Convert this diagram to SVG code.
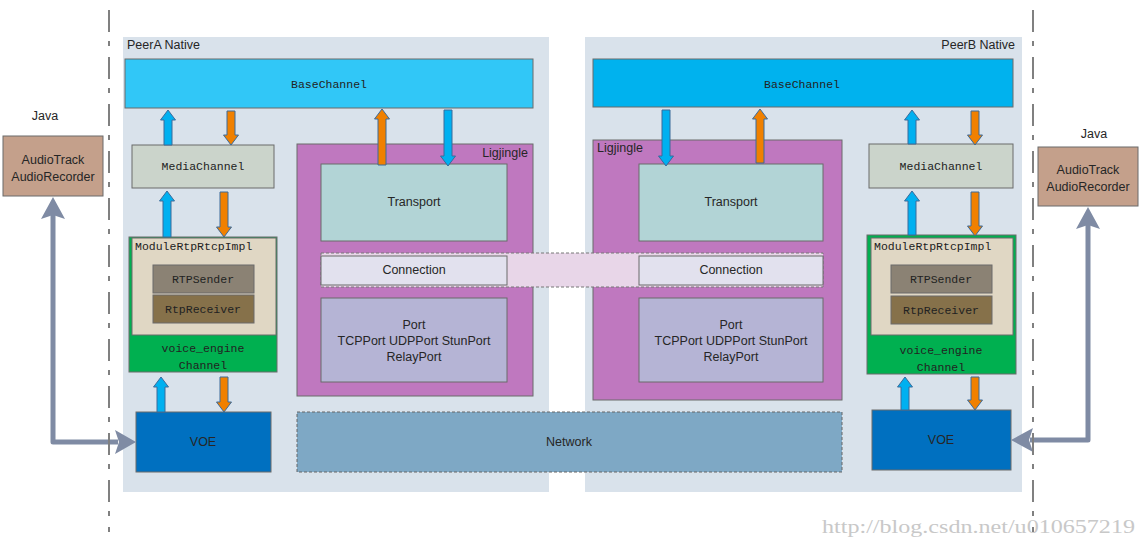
<svg xmlns="http://www.w3.org/2000/svg" width="1145" height="547" viewBox="0 0 1145 547">
<style>
.box{stroke:#6B6B6B;stroke-width:1}
.sans{font-family:"Liberation Sans",Arial,sans-serif;font-size:12.5px;fill:#262626}
.mono{font-family:"Liberation Mono","DejaVu Sans Mono",monospace;font-size:11.5px;fill:#222}
.mid{text-anchor:middle}
.blue{fill:#00B0F0;stroke:#3A6A9A;stroke-width:1}
.orange{fill:#F08000;stroke:#3A6A9A;stroke-width:1}
.big{fill:none;stroke:#7F8BA4;stroke-width:5;stroke-linejoin:round}
.head{fill:#7F8BA4}
.sep{stroke:#808080;stroke-width:2;stroke-dasharray:22 9 5 11;fill:none}
</style>
<rect width="1145" height="547" fill="#FFFFFF"/>
<g id="peerA-panel"><rect x="123" y="37" width="426" height="455" fill="#D9E2EB"/><text class="sans" x="127" y="49">PeerA Native</text></g>
<g id="peerB-panel"><rect x="585" y="37" width="437" height="455" fill="#D9E2EB"/><text class="sans" x="1015" y="49" text-anchor="end">PeerB Native</text></g>

<g id="javaA"><text class="sans mid" x="45" y="120">Java</text>
<rect class="box" x="3" y="136" width="100" height="60" fill="#C4A08B"/>
<text class="sans mid" x="53" y="164">AudioTrack</text><text class="sans mid" x="53" y="181">AudioRecorder</text></g>
<g id="javaB"><text class="sans mid" x="1094" y="138">Java</text>
<rect class="box" x="1038" y="147" width="100" height="59" fill="#C4A08B"/>
<text class="sans mid" x="1088" y="174">AudioTrack</text><text class="sans mid" x="1088" y="191">AudioRecorder</text></g>

<g id="baseChannelA"><rect class="box" x="125" y="59" width="408" height="49" fill="#31C7F7"/><text class="mono mid" x="329" y="88">BaseChannel</text></g>
<g id="baseChannelB"><rect class="box" x="593" y="59" width="420" height="48" fill="#00B2EE"/><text class="mono mid" x="802" y="88">BaseChannel</text></g>

<g id="mediaChannelA"><rect class="box" x="132" y="145" width="142" height="43" fill="#CBD4CB"/><text class="mono mid" x="203" y="170">MediaChannel</text></g>
<g id="mediaChannelB"><rect class="box" x="869" y="144" width="144" height="44" fill="#CBD4CB"/><text class="mono mid" x="941" y="170">MediaChannel</text></g>

<g id="channelA"><rect class="box" x="129" y="237" width="148" height="135" fill="#00B050"/>
<rect class="box" x="132" y="238" width="144" height="97" fill="#E0D7C4"/>
<text class="mono" x="135" y="250">ModuleRtpRtcpImpl</text>
<rect class="box" x="153" y="265" width="101" height="28" fill="#8B8274"/><text class="mono mid" x="203" y="283">RTPSender</text>
<rect class="box" x="153" y="295" width="101" height="28" fill="#86714A"/><text class="mono mid" x="203" y="313">RtpReceiver</text>
<text class="mono mid" x="203" y="352">voice_engine</text><text class="mono mid" x="203" y="369">Channel</text></g>
<g id="channelB"><rect class="box" x="867" y="235" width="149" height="139" fill="#00B050"/>
<rect class="box" x="871" y="238" width="142" height="97" fill="#E0D7C4"/>
<text class="mono" x="874" y="250">ModuleRtpRtcpImpl</text>
<rect class="box" x="891" y="265" width="101" height="28" fill="#8B8274"/><text class="mono mid" x="941" y="283">RTPSender</text>
<rect class="box" x="891" y="296" width="101" height="28" fill="#86714A"/><text class="mono mid" x="941" y="314">RtpReceiver</text>
<text class="mono mid" x="941" y="354">voice_engine</text><text class="mono mid" x="941" y="371">Channel</text></g>

<g id="ligjingleA"><rect class="box" x="297" y="144" width="236" height="252" fill="#BF78BF"/><text class="sans" x="528" y="157" text-anchor="end">Ligjingle</text></g>
<g id="ligjingleB"><rect class="box" x="593" y="140" width="249" height="260" fill="#BF78BF"/><text class="sans" x="597" y="152">Ligjingle</text></g>

<g id="connectionLink"><rect x="321" y="253" width="502" height="34" fill="#E8D6E8" stroke="#777" stroke-width="1" stroke-dasharray="3 2"/></g>

<g id="transportA"><rect class="box" x="321" y="164" width="186" height="77" fill="#B2D4D6"/><text class="sans mid" x="414" y="206">Transport</text></g>
<g id="transportB"><rect class="box" x="639" y="164" width="184" height="77" fill="#B2D4D6"/><text class="sans mid" x="731" y="206">Transport</text></g>
<g id="connectionA"><rect class="box" x="321" y="256" width="186" height="29" fill="#E2E1EE"/><text class="sans mid" x="414" y="274">Connection</text></g>
<g id="connectionB"><rect class="box" x="639" y="256" width="184" height="29" fill="#E2E1EE"/><text class="sans mid" x="731" y="274">Connection</text></g>
<g id="portA"><rect class="box" x="321" y="298" width="186" height="84" fill="#B5B4D5"/>
<text class="sans mid" x="414" y="329">Port</text><text class="sans mid" x="414" y="345">TCPPort UDPPort StunPort</text><text class="sans mid" x="414" y="361">RelayPort</text></g>
<g id="portB"><rect class="box" x="639" y="298" width="184" height="84" fill="#B5B4D5"/>
<text class="sans mid" x="731" y="329">Port</text><text class="sans mid" x="731" y="345">TCPPort UDPPort StunPort</text><text class="sans mid" x="731" y="361">RelayPort</text></g>

<g id="network"><rect x="297" y="412" width="545" height="60" fill="#7EA8C5" stroke="#666" stroke-width="1" stroke-dasharray="3 2"/><text class="sans mid" x="569" y="446">Network</text></g>
<g id="voeA"><rect class="box" x="136" y="412" width="135" height="60" fill="#0070C0"/><text class="sans mid" x="203" y="446">VOE</text></g>
<g id="voeB"><rect class="box" x="872" y="410" width="139" height="60" fill="#0070C0"/><text class="sans mid" x="941" y="444">VOE</text></g>

<g id="connectors">
<path class="blue" d="M164 145 V120 H160.5 L168 110 L175.5 120 H172 V145 Z"/>
<path class="orange" d="M227 111 V135 H223.5 L231 145 L238.5 135 H235 V111 Z"/>
<path class="blue" d="M163 237 V201 H159.5 L167 191 L174.5 201 H171 V237 Z"/>
<path class="orange" d="M220 192 V227 H216.5 L224 237 L231.5 227 H228 V192 Z"/>
<path class="blue" d="M157 412 V387 H153.5 L161 377 L168.5 387 H165 V412 Z"/>
<path class="orange" d="M220 377 V402 H216.5 L224 412 L231.5 402 H228 V377 Z"/>
<path class="orange" d="M378 165 V119 H374.5 L382 109 L389.5 119 H386 V165 Z"/>
<path class="blue" d="M444 110 V156 H440.5 L448 166 L455.5 156 H452 V110 Z"/>
<path class="blue" d="M662 110 V156 H658.5 L666 166 L673.5 156 H670 V110 Z"/>
<path class="orange" d="M756 163 V119 H752.5 L760 109 L767.5 119 H764 V163 Z"/>
<path class="blue" d="M908 144 V120 H904.5 L912 110 L919.5 120 H916 V144 Z"/>
<path class="orange" d="M971 111 V135 H967.5 L975 145 L982.5 135 H979 V111 Z"/>
<path class="blue" d="M908 235 V201 H904.5 L912 191 L919.5 201 H916 V235 Z"/>
<path class="orange" d="M971 192 V226 H967.5 L975 236 L982.5 226 H979 V192 Z"/>
<path class="blue" d="M901 410 V387 H897.5 L905 377 L912.5 387 H909 V410 Z"/>
<path class="orange" d="M971 377 V400 H967.5 L975 410 L982.5 400 H979 V377 Z"/>
<path class="big" d="M53 215 V442 H118"/>
<polygon class="head" points="53,197 41,219 53,215 65,219"/>
<polygon class="head" points="136,442 115,430 119,442 115,454"/>
<path class="big" d="M1088 225 V440 H1030"/>
<polygon class="head" points="1088,207 1076,229 1088,225 1100,229"/>
<polygon class="head" points="1011,440 1033,428 1029,440 1033,452"/>
</g>

<g id="separators">
<line class="sep" x1="109" y1="10" x2="109" y2="532"/>
<line class="sep" x1="1033" y1="10" x2="1033" y2="532"/>
</g>
<text x="1135" y="533" text-anchor="end" font-family="Liberation Serif,serif" font-size="18" fill="#C8C8C8" textLength="313" lengthAdjust="spacingAndGlyphs">http://blog.csdn.net/u010657219</text>
</svg>
